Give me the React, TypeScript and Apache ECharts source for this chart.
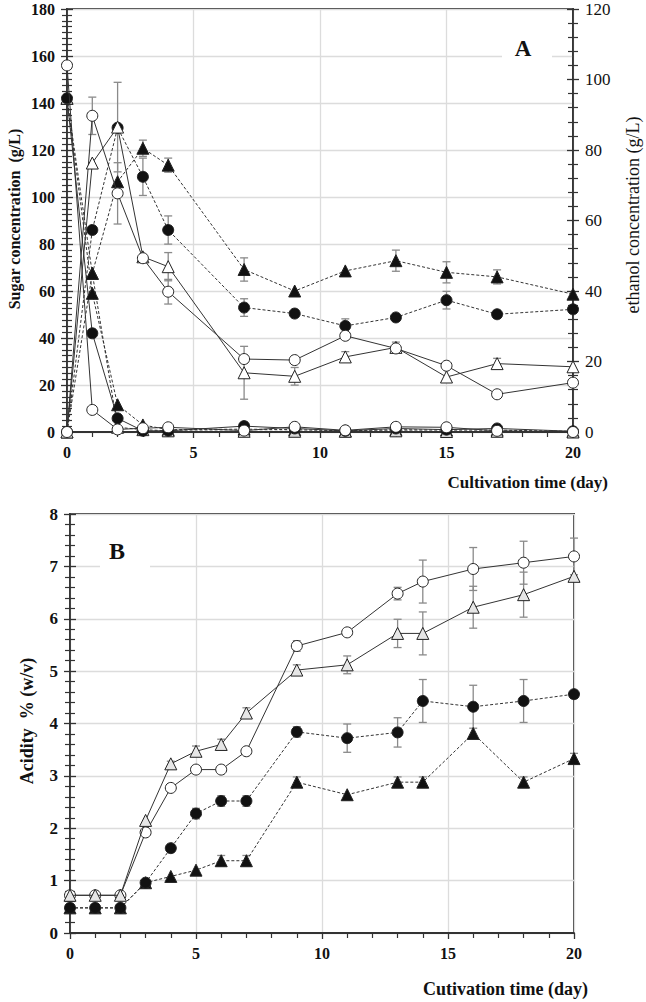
import React, { useEffect, useRef } from "react";
import * as echarts from "echarts";

// ---------- Panel A data ----------
const daysA = [0, 1, 2, 3, 4, 7, 9, 11, 13, 15, 17, 20];
// sugar (g/L, left axis)
const sugarOpenCircle = [156, 9.4, 1.1, 1.6, 2, 0.6, 2.2, 0.7, 2.2, 2, 0.5, 0];
const sugarFilledCircle = [142, 42, 5.8, 0.5, 0.5, 2.5, 1.5, 0.5, 1.5, 1, 1.5, 0.3];
const sugarFilledTri = [142, 59, 11.6, 3, 1, 1.2, 1, 0.5, 1, 0.8, 0.8, 0.3];
const sugarOpenTri = [142, 67.5, 2, 1, 0.5, 0.3, 0.3, 0.3, 0.5, 0.2, 0.3, 0];
// ethanol (g/L, right axis)
const ethOpenCircle = [0, 89.7, 67.7, 49.3, 39.8, 20.7, 20.4, 27.3, 23.7, 18.8, 10.7, 14];
const ethOpenTri = [0, 76.3, 86.5, 49.7, 46.9, 16.8, 15.8, 21.3, 24, 15.6, 19.4, 18.5];
const ethFilledCircle = [0, 57.3, 86.3, 72.4, 57.3, 35.3, 33.6, 30.1, 32.5, 37.4, 33.4, 34.8];
const ethFilledTri = [0, 45, 71, 80.5, 75.7, 46.1, 40, 45.7, 48.6, 45.3, 44, 39.1];
// ethanol error (±, g/L)
const errEthOpenCircle = [0, 5.3, 8.7, 0, 3.5, 0, 0, 1, 1, 0, 0, 0];
const errEthOpenTri = [0, 0, 12.7, 0, 4, 7.5, 2.5, 1.5, 1.5, 0, 1.5, 0];
const errEthFilledCircle = [0, 0, 0, 5.3, 4, 2.5, 0, 2, 0, 2.5, 0, 0];
const errEthFilledTri = [0, 0, 0, 2.3, 2, 3.3, 0, 0, 3, 3, 2, 0];

// ---------- Panel B data ----------
const daysB = [0, 1, 2, 3, 4, 5, 6, 7, 9, 11, 13, 14, 16, 18, 20];
const acidOpenCircle = [0.72, 0.72, 0.72, 1.92, 2.77, 3.12, 3.12, 3.47, 5.48, 5.74, 6.48, 6.71, 6.95, 7.07, 7.19];
const acidOpenTri = [0.72, 0.72, 0.72, 2.15, 3.23, 3.47, 3.6, 4.2, 5.02, 5.12, 5.72, 5.72, 6.22, 6.46, 6.81];
const acidFilledCircle = [0.48, 0.48, 0.48, 0.96, 1.62, 2.28, 2.52, 2.52, 3.84, 3.72, 3.83, 4.43, 4.32, 4.43, 4.56];
const acidFilledTri = [0.48, 0.48, 0.48, 0.96, 1.08, 1.2, 1.38, 1.38, 2.88, 2.64, 2.88, 2.88, 3.81, 2.88, 3.33];
const errAcidOpenCircle = [0, 0, 0, 0, 0, 0, 0, 0, 0.1, 0.05, 0.12, 0.41, 0.41, 0.41, 0.35];
const errAcidOpenTri = [0, 0, 0, 0, 0.05, 0.1, 0.1, 0.1, 0.1, 0.17, 0.27, 0.41, 0.4, 0.43, 0];
const errAcidFilledCircle = [0, 0, 0, 0, 0, 0.1, 0.1, 0.1, 0.1, 0.27, 0.28, 0.41, 0.41, 0.41, 0];
const errAcidFilledTri = [0, 0, 0, 0, 0, 0, 0.1, 0.1, 0.1, 0, 0.1, 0.1, 0, 0.1, 0.1];

const ticksA_left = [0, 20, 40, 60, 80, 100, 120, 140, 160, 180];
const ticksA_right = [0, 20, 40, 60, 80, 100, 120];
const ticksB = [0, 1, 2, 3, 4, 5, 6, 7, 8];

const SERIF = "'Liberation Serif', 'DejaVu Serif', serif";
const LINE = "#333";

type Kind = "oc" | "fc" | "ot" | "ft";

function lineSeries(kind: Kind, days: number[], vals: number[], xi: number, yi: number, dashed: boolean, openFill = "#fff", z?: number) {
  const isTri = kind === "ot" || kind === "ft";
  const filled = kind === "fc" || kind === "ft";
  return {
    type: "line",
    xAxisIndex: xi,
    yAxisIndex: yi,
    data: days.map((d, i) => [d, vals[i]]),
    symbol: isTri ? "triangle" : "circle",
    symbolSize: isTri ? 12 : 11,
    z: z !== undefined ? z : filled ? 3 : 4,
    lineStyle: { color: LINE, width: 1, type: dashed ? [3, 2] : "solid" },
    itemStyle: { color: filled ? "#111" : openFill, borderColor: "#222", borderWidth: 1 },
    emphasis: { disabled: true },
  };
}

function errSeries(days: number[], vals: number[], errs: number[], xi: number, yi: number) {
  const data: number[][] = [];
  days.forEach((d, i) => {
    if (errs[i] > 0) data.push([d, vals[i] - errs[i], vals[i] + errs[i]]);
  });
  return {
    type: "custom",
    xAxisIndex: xi,
    yAxisIndex: yi,
    z: 2,
    silent: true,
    data,
    encode: { x: 0, y: [1, 2] },
    renderItem: (_p: any, api: any) => {
      const x = api.value(0);
      const lo = api.value(1);
      const hi = api.value(2);
      const a = api.coord([x, hi]);
      const b = api.coord([x, lo]);
      const w = 4;
      const st = { stroke: "#8a8a8a", lineWidth: 1.3 };
      return {
        type: "group",
        children: [
          { type: "line", shape: { x1: a[0], y1: a[1], x2: b[0], y2: b[1] }, style: st },
          { type: "line", shape: { x1: a[0] - w, y1: a[1], x2: a[0] + w, y2: a[1] }, style: st },
          { type: "line", shape: { x1: b[0] - w, y1: b[1], x2: b[0] + w, y2: b[1] }, style: st },
        ],
      };
    },
  };
}

const labelBold = { fontFamily: SERIF, fontWeight: "bold", fontSize: 16, color: "#111" };
const labelReg = { fontFamily: SERIF, fontWeight: "normal", fontSize: 17, color: "#111" };

function xAxisCfg(gridIndex: number, margin: number) {
  return {
    type: "value",
    gridIndex,
    min: 0,
    max: 20,
    interval: 5,
    axisLine: { show: true, onZero: false, lineStyle: { color: LINE, width: 1.8 } },
    axisTick: { show: true, inside: false, length: 6, lineStyle: { color: LINE, width: 1.3 } },
    minorTick: { show: true, splitNumber: 5, length: 5, lineStyle: { color: LINE, width: 1.2 } },
    axisLabel: { ...labelBold, margin },
    splitLine: { show: true, lineStyle: { color: "#dcdcdc", width: 1.3 } },
  };
}

function yAxisCfg(gridIndex: number, pos: string, ticks: number[], minorSplit: number, label: any, split: boolean) {
  const min = ticks[0];
  const max = ticks[ticks.length - 1];
  const interval = ticks[1] - ticks[0];
  return [
    {
      type: "value",
      gridIndex,
      position: pos,
      min,
      max,
      interval,
      axisLine: { show: true, onZero: false, lineStyle: { color: LINE, width: 1.8 } },
      axisTick: { show: true, inside: false, length: 6, lineStyle: { color: LINE, width: 1.3 } },
      minorTick: { show: true, splitNumber: minorSplit, length: 5, lineStyle: { color: LINE, width: 1.2 } },
      axisLabel: label,
      splitLine: { show: split, lineStyle: { color: "#dcdcdc", width: 1.3 } },
    },
    {
      type: "value",
      gridIndex,
      position: pos,
      min,
      max,
      interval,
      axisLine: { show: false },
      axisTick: { show: true, inside: true, length: 6, lineStyle: { color: LINE, width: 1.3 } },
      minorTick: { show: true, splitNumber: minorSplit, length: 5, lineStyle: { color: LINE, width: 1.2 } },
      axisLabel: { show: false },
      splitLine: { show: false },
    },
  ];
}

export default function App() {
  const ref = useRef<HTMLDivElement>(null);
  useEffect(() => {
    document.body.style.margin = "0";
    if (!ref.current) return;
    const chart = echarts.init(ref.current, undefined, { renderer: "svg" });
    const yAxes = [
      ...yAxisCfg(0, "left", ticksA_left, 8, { ...labelBold, fontSize: 16, margin: 12 }, true), // 0,1
      ...yAxisCfg(0, "right", ticksA_right, 5, { ...labelReg, margin: 12 }, false), // 2,3
      ...yAxisCfg(1, "left", ticksB, 5, { ...labelBold, fontSize: 17, margin: 12 }, true), // 4,5
    ];
    const option: any = {
      animation: false,
      backgroundColor: "#fff",
      grid: [
        { left: 67, right: 73, top: 9, height: 423, show: true, borderColor: LINE, borderWidth: 1.8, backgroundColor: "transparent" },
        { left: 70, right: 72, top: 514, height: 419, show: true, borderColor: LINE, borderWidth: 1.8, backgroundColor: "transparent" },
      ],
      xAxis: [xAxisCfg(0, 12), xAxisCfg(1, 12)],
      yAxis: yAxes,
      series: [
        // error bars A (ethanol, right axis)
        errSeries(daysA, ethOpenCircle, errEthOpenCircle, 0, 2),
        errSeries(daysA, ethOpenTri, errEthOpenTri, 0, 2),
        errSeries(daysA, ethFilledCircle, errEthFilledCircle, 0, 2),
        errSeries(daysA, ethFilledTri, errEthFilledTri, 0, 2),
        // sugar
        lineSeries("ft", daysA, sugarFilledTri, 0, 0, true),
        lineSeries("ot", daysA, sugarOpenTri, 0, 0, true, "#d8d8d8", 3),
        lineSeries("fc", daysA, sugarFilledCircle, 0, 0, false),
        lineSeries("oc", daysA, sugarOpenCircle, 0, 0, false),
        // ethanol
        lineSeries("ft", daysA, ethFilledTri, 0, 2, true),
        lineSeries("fc", daysA, ethFilledCircle, 0, 2, true),
        lineSeries("ot", daysA, ethOpenTri, 0, 2, false),
        lineSeries("oc", daysA, ethOpenCircle, 0, 2, false),
        // error bars B
        errSeries(daysB, acidOpenCircle, errAcidOpenCircle, 1, 4),
        errSeries(daysB, acidOpenTri, errAcidOpenTri, 1, 4),
        errSeries(daysB, acidFilledCircle, errAcidFilledCircle, 1, 4),
        errSeries(daysB, acidFilledTri, errAcidFilledTri, 1, 4),
        // acidity
        lineSeries("ft", daysB, acidFilledTri, 1, 4, true, "#fff", 3),
        lineSeries("fc", daysB, acidFilledCircle, 1, 4, true, "#fff", 4),
        lineSeries("oc", daysB, acidOpenCircle, 1, 4, false, "#fff", 5),
        lineSeries("ot", daysB, acidOpenTri, 1, 4, false, "#e6e6e6", 6),
      ],
      graphic: [
        { type: "rect", z: 100, shape: { x: 502, y: 34, width: 50, height: 32 }, style: { fill: "#fff" } },
        { type: "text", z: 101, x: 523, y: 48, style: { text: "A", fontFamily: SERIF, fontWeight: "bold", fontSize: 23, fill: "#111", align: "center", verticalAlign: "middle" } },
        { type: "rect", z: 100, shape: { x: 100, y: 534, width: 50, height: 40 }, style: { fill: "#fff" } },
        { type: "text", z: 101, x: 117, y: 551, style: { text: "B", fontFamily: SERIF, fontWeight: "bold", fontSize: 24, fill: "#111", align: "center", verticalAlign: "middle" } },
        { type: "text", z: 101, x: 14, y: 219, rotation: Math.PI / 2, style: { text: "Sugar concentration  (g/L)", fontFamily: SERIF, fontWeight: "bold", fontSize: 16, fill: "#111", align: "center", verticalAlign: "middle" } },
        { type: "text", z: 101, x: 633, y: 215, rotation: Math.PI / 2, style: { text: "ethanol concentration (g/L)", fontFamily: SERIF, fontWeight: "normal", fontSize: 18, fill: "#111", align: "center", verticalAlign: "middle" } },
        { type: "text", z: 101, x: 608, y: 482, style: { text: "Cultivation time (day)", fontFamily: SERIF, fontWeight: "bold", fontSize: 17, fill: "#111", align: "right", verticalAlign: "middle" } },
        { type: "text", z: 101, x: 27, y: 721, rotation: Math.PI / 2, style: { text: "Acidity  % (w/v)", fontFamily: SERIF, fontWeight: "bold", fontSize: 18, fill: "#111", align: "center", verticalAlign: "middle" } },
        { type: "text", z: 101, x: 588, y: 989, style: { text: "Cutivation time (day)", fontFamily: SERIF, fontWeight: "bold", fontSize: 18, fill: "#111", align: "right", verticalAlign: "middle" } },
      ],
    };
    chart.setOption(option);
    return () => chart.dispose();
  }, []);
  return <div ref={ref} style={{ width: 646, height: 1002 }} />;
}
